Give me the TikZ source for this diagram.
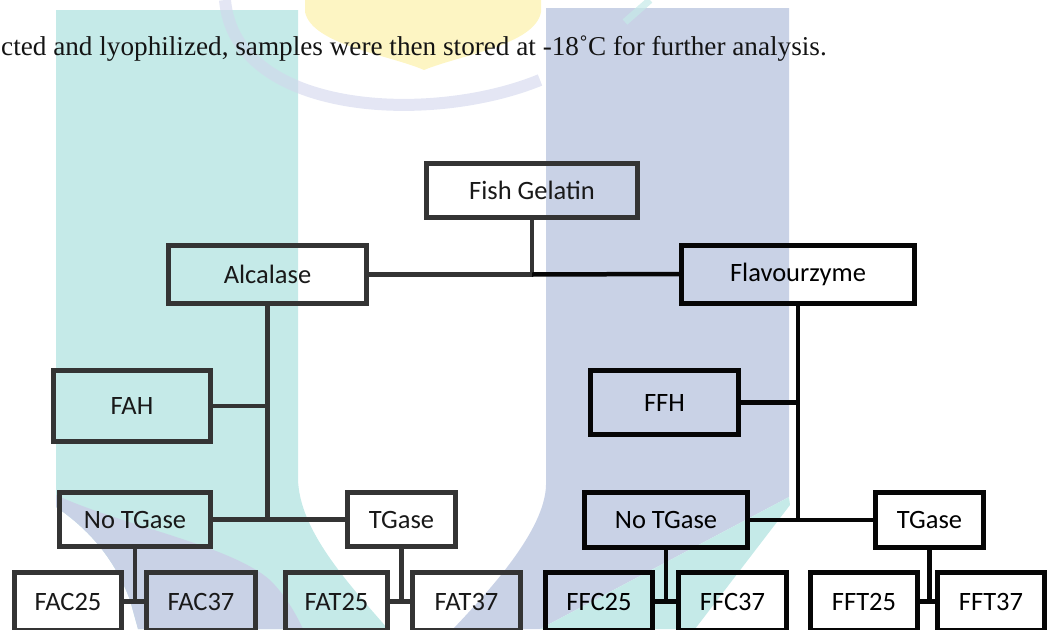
\documentclass[tikz,border=0pt]{standalone}
\usepackage{fontspec}
\setmainfont{Liberation Serif}
\newfontfamily\boxfont{Carlito}
\definecolor{wteal}{RGB}{197,234,232}
\definecolor{wblue}{RGB}{201,210,230}
\definecolor{wyellow}{RGB}{253,245,195}
\definecolor{warc}{RGB}{210,214,236}
\definecolor{lineL}{RGB}{52,52,52}
\definecolor{lineR}{RGB}{6,6,6}
\begin{document}
\begin{tikzpicture}[x=1pt,y=-1pt,
  box/.style={draw, line width=5pt, inner sep=0pt, anchor=center,
    font=\boxfont\fontsize{26.5}{31}\selectfont},
  lbox/.style={box, draw=lineL, text=black!90},
  rbox/.style={box, draw=lineR, text=black},
  conn/.style={line width=4.5pt},
  lconn/.style={conn, draw=lineL},
  rconn/.style={conn, draw=lineR}]
\useasboundingbox (0,0) rectangle (1049,629);
\clip (0,0) rectangle (1049,629);
% ---- watermark ----
\fill[wteal] (56,10) -- (298,10) -- (298,480) .. controls (300,530) and (345,580) .. (388,629)
  -- (138,629) -- (130,600) .. controls (115,560) and (90,530) .. (56,507) -- cycle;
\fill[wblue] (56,495) .. controls (120,525) and (230,545) .. (270,580)
  .. controls (285,595) and (295,612) .. (303,629)
  -- (138,629) -- (130,600) .. controls (115,560) and (90,530) .. (56,507) -- cycle;
\fill[wblue] (546,8) -- (789,8) -- (789,497) -- (540,629) -- (453,629)
  .. controls (490,590) and (545,530) .. (546,485) -- cycle;
\fill[wteal] (789,497) -- (540,629) -- (695,629) -- (790,505) -- cycle;
\fill[wyellow] (305,0) -- (541,0) -- (541,12) .. controls (535,45) and (460,55) .. (424,70)
  .. controls (390,55) and (312,45) .. (305,12) -- cycle;
\draw[warc, line width=12pt, opacity=0.6] (225,0) .. controls (235,115) and (430,125) .. (540,80);
\draw[wteal, line width=7pt, opacity=0.7] (625,22) -- (650,0);
% ---- caption line ----
\node[anchor=base west, inner sep=0pt, text=black!92,
  font=\fontsize{27.2}{32}\selectfont] (cap) at (1,55)
  {cted and lyophilized, samples were then stored at -18˚C for further analysis.};
% ---- boxes ----
\node[lbox, minimum width=211pt, minimum height=54pt] (fish) at (532,190.5) {Fish Gelatin};
\node[lbox, minimum width=198pt, minimum height=58pt] (alc) at (267.5,274.5) {Alcalase};
\node[rbox, minimum width=233pt, minimum height=58pt] (flav) at (798,274) {Flavourzyme};
\node[lbox, minimum width=157pt, minimum height=71pt] (fah) at (132,406) {FAH};
\node[rbox, minimum width=148pt, minimum height=64pt] (ffh) at (664.5,402.5) {FFH};
\node[lbox, minimum width=151pt, minimum height=54pt] (ntl) at (135,519.5) {No TGase};
\node[lbox, minimum width=108pt, minimum height=54pt] (tgl) at (401.5,519.5) {TGase};
\node[rbox, minimum width=163pt, minimum height=55pt] (ntr) at (666,520) {No TGase};
\node[rbox, minimum width=108pt, minimum height=55pt] (tgr) at (929.5,520) {TGase};
\node[lbox, minimum width=107pt, minimum height=58pt] (fac25) at (68,601.5) {FAC25};
\node[lbox, minimum width=109pt, minimum height=58pt] (fac37) at (201,601.5) {FAC37};
\node[lbox, minimum width=102pt, minimum height=58pt] (fat25) at (336.5,601.5) {FAT25};
\node[lbox, minimum width=108pt, minimum height=58pt] (fat37) at (466.5,601.5) {FAT37};
\node[rbox, minimum width=107pt, minimum height=58pt] (ffc25) at (599,601.5) {FFC25};
\node[rbox, minimum width=108pt, minimum height=58pt] (ffc37) at (732.5,601.5) {FFC37};
\node[rbox, minimum width=107pt, minimum height=58pt] (fft25) at (864,601.5) {FFT25};
\node[rbox, minimum width=107pt, minimum height=58pt] (fft37) at (991,601.5) {FFT37};
% ---- connectors ----
\coordinate (top) at (fish.south |- alc.east);
\draw[lconn] (fish.south) -- (top);
\draw[lconn] (alc.east) -- (top);
\draw[rconn] (top) -- (flav.west);
\draw[lconn] (alc.south) -- (alc.south |- ntl.east);
\draw[lconn] (fah.east) -- (fah.east -| alc.south);
\draw[lconn] (ntl.east) -- (tgl.west);
\draw[lconn] (ntl.south) -- (ntl.south |- fac25.east);
\draw[lconn] (fac25.east) -- (fac37.west);
\draw[lconn] (tgl.south) -- (tgl.south |- fat25.east);
\draw[lconn] (fat25.east) -- (fat37.west);
\draw[rconn] (flav.south) -- (flav.south |- ntr.east);
\draw[rconn] (ffh.east) -- (ffh.east -| flav.south);
\draw[rconn] (ntr.east) -- (tgr.west);
\draw[rconn] (ntr.south) -- (ntr.south |- ffc25.east);
\draw[rconn] (ffc25.east) -- (ffc37.west);
\draw[rconn] (tgr.south) -- (tgr.south |- fft25.east);
\draw[rconn] (fft25.east) -- (fft37.west);
\end{tikzpicture}
\end{document}
